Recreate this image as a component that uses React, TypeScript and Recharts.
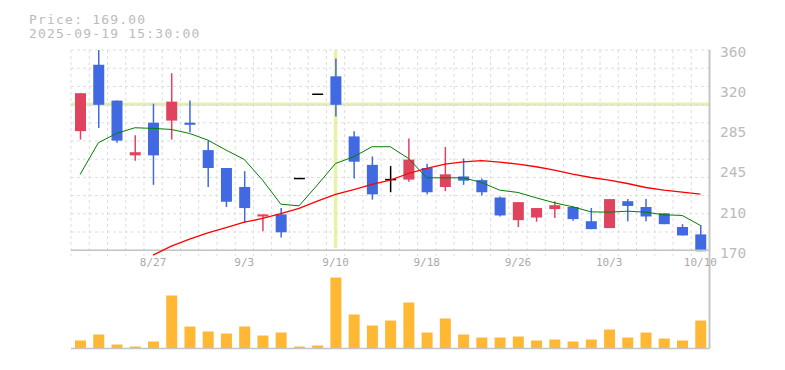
import { Bar, CartesianGrid, ComposedChart, Line, ReferenceLine, XAxis, YAxis } from "recharts";

const dates = [
  "8/21", "8/22", "8/25", "8/26", "8/27", "8/28", "8/29", "9/1", "9/2", "9/3",
  "9/4", "9/5", "9/8", "9/9", "9/10", "9/11", "9/12", "9/16", "9/17", "9/18",
  "9/19", "9/22", "9/24", "9/25", "9/26", "9/29", "9/30", "10/1", "10/2", "10/3",
  "10/6", "10/7", "10/8", "10/9", "10/10",
];
const tickDates = ["8/27", "9/3", "9/10", "9/18", "9/26", "10/3", "10/10"];

const opens = [283, 346, 312, 260, 291, 293, 291, 265, 248, 230, 202, 204, 238, 318, 335, 278, 251, 237, 237, 248, 230, 240, 236.5, 220, 198.5, 201, 209, 211, 197.5, 191, 216.5, 211, 205, 192, 185];
const highs = [319, 360, 312, 279, 309, 338, 312, 274, 248, 245, 204, 210, 238, 318, 352, 283, 259, 250, 276, 252, 268, 257, 238, 221, 215.6, 210, 216.5, 212, 210, 218.5, 218.5, 218.5, 205, 194.7, 194];
const lows = [275, 286, 272, 255, 232, 275, 282, 230, 211, 196, 188, 182, 238, 318, 297, 238, 218, 225, 235, 223, 226, 232, 222, 202, 192, 197, 200.5, 198, 190, 191, 197.5, 197.5, 194.7, 184, 169];
const closes = [319, 308, 274, 263, 260, 311, 289, 248, 216, 210, 204, 187, 238, 318, 308, 254, 223, 237, 256, 225, 242, 236, 225, 203, 215.6, 210, 212.7, 199.5, 190, 218.5, 212, 202, 194.7, 184, 169];
const volumes = [8, 14, 4, 2, 7, 53, 22, 17, 15, 22, 13, 16, 2, 3, 71, 34, 23, 28, 46, 16, 30, 14, 11, 11, 12, 8, 9, 7, 9, 19, 11, 16, 10, 8, 28];
const ma5 = [241.9, 272, 280.9, 286.2, 285.6, 284.6, 280.8, 274.5, 265, 256.1, 236.5, 213.7, 212.1, 231.8, 252.3, 258.7, 268.2, 268.2, 257.1, 238.7, 238.7, 238.7, 234.3, 227, 224.8, 219.7, 215, 211.2, 206.4, 206.1, 207, 206.1, 203.6, 203, 193.5];
const ma25 = [null, null, null, null, 165.3, 173.8, 180.5, 186.5, 191.5, 196.6, 200.1, 204.8, 209.6, 216.5, 222.9, 227.6, 232.4, 236.5, 242.8, 247.6, 251.7, 253.9, 255, 253.6, 251.7, 249.2, 246, 242.2, 239, 236.5, 233.3, 229.5, 227, 225.1, 223.2];

const priceTicks = [170, 208, 246, 284, 322, 360];
const lastPrice = "169.00";
const lastTime = "2025-09-19 15:30:00";
const crossIndex = 14;
const crossPrice = 308.5;

const UP = "#e0435e";
const DOWN = "#4169e1";
const FLAT = "#000";
const CROSS = "#e4f4a4";
const AXIS = "#c4c4c4";
const MONO = "'DejaVu Sans Mono', monospace";

const rows = dates.map((date, i) => ({
  i,
  date,
  open: opens[i],
  high: highs[i],
  low: lows[i],
  close: closes[i],
  vol: volumes[i],
  ma5: ma5[i],
  ma25: ma25[i],
}));

const colLines = Array.from({ length: dates.length + 1 }, (_, k) => k - 0.5);
const rowLines = Array.from({ length: 12 }, (_, k) => 170 + (k * 190) / 11);
const tickIdx = tickDates.map((d) => dates.indexOf(d));
const xDomain = [-0.5, dates.length - 0.5];
const priceDomain = [164.5, 360];
const chartMargin = { top: 50, right: 0, bottom: 0, left: 71 };

function Candle(props: any) {
  const { x, y, width, height, payload } = props;
  const { open, close, high, low } = payload;
  const span = high - low;
  const toY = (v: number) => (span <= 0.01 ? y : y + ((high - v) / span) * height);
  const color = close > open ? UP : close < open ? DOWN : FLAT;
  const cx = x + width / 2;
  const top = toY(Math.max(open, close));
  const bottom = toY(Math.min(open, close));
  return (
    <g>
      {span > 0.01 && <line x1={cx} x2={cx} y1={y} y2={y + height} stroke={color} strokeWidth={1.5} />}
      {open === close ? (
        <line x1={x} x2={x + width} y1={top} y2={top} stroke={color} strokeWidth={1.5} />
      ) : (
        <rect x={x} y={top} width={width} height={Math.max(bottom - top, 1)} fill={color} />
      )}
    </g>
  );
}

function PriceTick(props: any) {
  const { x, y, payload } = props;
  return (
    <text x={x + 2.5} y={y + 2.2} dy="0.355em" textAnchor="start" fontFamily={MONO} fontSize={14.5} fill="#bbb">
      {Math.round(payload.value / 5) * 5}
    </text>
  );
}

const layer = (top: number) => ({ position: "absolute" as const, left: 0, top });

export default function App() {
  return (
    <div style={{ position: "absolute", left: 0, top: 0, width: 785, height: 370, background: "#fff" }}>
      <svg width={300} height={45} style={layer(0)}>
        <text x={29} y={23.5} fontFamily={MONO} fontSize={13} letterSpacing={1.2} fill="#bbb">
          Price: {lastPrice}
        </text>
        <text x={29} y={38} fontFamily={MONO} fontSize={13} letterSpacing={1.2} fill="#bbb">
          {lastTime}
        </text>
      </svg>

      {/* volume panel */}
      <div style={layer(256)}>
        <ComposedChart width={785} height={114} data={rows} margin={{ top: 0, right: 0, bottom: 0, left: 71 }}>
          <CartesianGrid stroke="#ddd" strokeDasharray="3 3" horizontal={false} verticalValues={colLines} />
          <XAxis
            dataKey="i"
            type="number"
            domain={xDomain}
            height={21.5}
            tick={false}
            tickLine={false}
            axisLine={{ stroke: AXIS, strokeWidth: 1.5 }}
          />
          <YAxis
            orientation="right"
            width={75.5}
            domain={[0, 92.5]}
            tick={false}
            tickLine={false}
            axisLine={{ stroke: AXIS, strokeWidth: 2 }}
          />
          <Bar dataKey="vol" fill="#ffb833" barSize={11} isAnimationActive={false} />
        </ComposedChart>
      </div>

      {/* crosshair, behind the candles */}
      <div style={layer(0)}>
        <ComposedChart width={785} height={270} data={rows} margin={chartMargin}>
          <XAxis dataKey="i" type="number" domain={xDomain} height={14} tick={false} tickLine={false} axisLine={false} />
          <YAxis orientation="right" width={75.5} type="number" domain={priceDomain} tick={false} tickLine={false} axisLine={false} />
          <Line dataKey="close" stroke="none" dot={false} activeDot={false} isAnimationActive={false} />
          <ReferenceLine y={crossPrice} stroke={CROSS} strokeWidth={3.5} />
          <ReferenceLine
            segment={[
              { x: crossIndex, y: 172 },
              { x: crossIndex, y: 360 },
            ]}
            stroke={CROSS}
            strokeWidth={3.5}
          />
        </ComposedChart>
      </div>

      {/* price panel */}
      <div style={layer(0)}>
        <ComposedChart width={785} height={270} data={rows} margin={chartMargin}>
          <CartesianGrid stroke="#ddd" strokeDasharray="3 3" horizontalValues={rowLines} verticalValues={colLines} />
          <XAxis
            dataKey="i"
            type="number"
            domain={xDomain}
            ticks={tickIdx}
            interval={0}
            tickFormatter={(v: number) => dates[v]}
            axisLine={false}
            tickLine={false}
            tickSize={0}
            tickMargin={2}
            height={14}
            tick={{ fontFamily: MONO, fontSize: 11, fill: "#aaa" }}
          />
          <YAxis
            orientation="right"
            width={75.5}
            type="number"
            domain={priceDomain}
            ticks={priceTicks}
            interval={0}
            tickLine={false}
            axisLine={{ stroke: AXIS, strokeWidth: 2 }}
            tick={<PriceTick />}
          />
          <ReferenceLine y={170} stroke={AXIS} strokeWidth={1.5} />
          <Bar
            dataKey={(d: any) => [d.low, Math.max(d.high, d.low + 0.001)]}
            barSize={11}
            shape={<Candle />}
            isAnimationActive={false}
          />
          <Line dataKey="ma5" stroke="#008000" strokeWidth={1} dot={false} type="linear" isAnimationActive={false} />
          <Line dataKey="ma25" stroke="#ff0000" strokeWidth={1.3} dot={false} type="linear" isAnimationActive={false} />
        </ComposedChart>
      </div>
    </div>
  );
}
